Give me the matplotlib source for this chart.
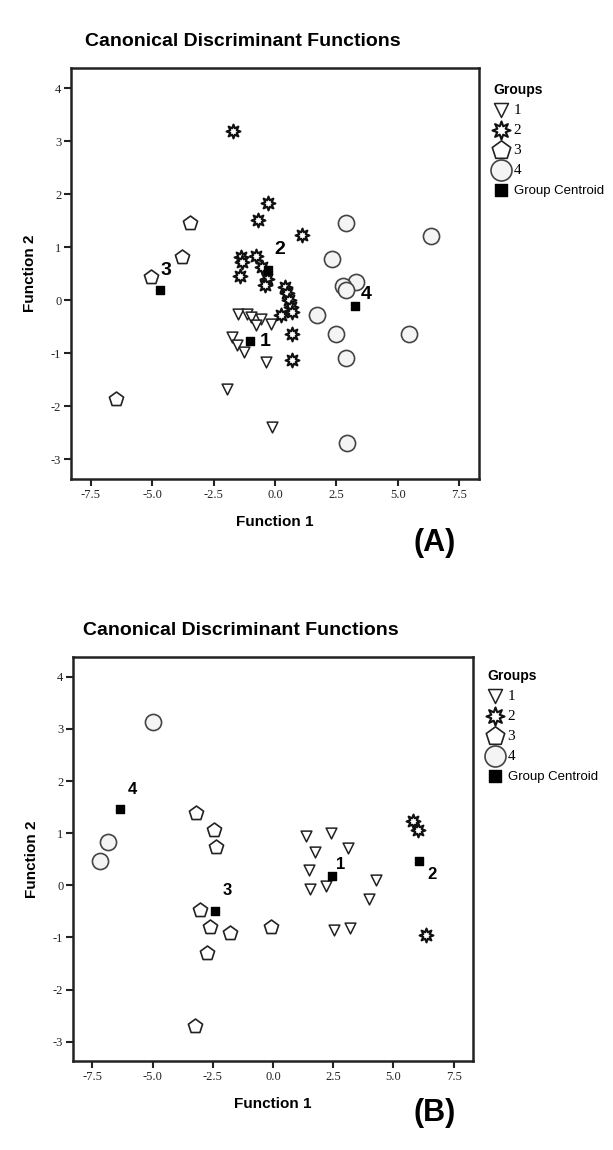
import numpy as np
import matplotlib.pyplot as plt

plt.rcParams['font.family'] = ['Liberation Sans', 'DejaVu Sans']

# ---- panel (A) ----
a_g1_x = [-1.49, -1.12, -0.99, -0.58, -0.79, -0.18, -1.73, -1.53, -1.26, -0.38, -1.96, -0.14]
a_g1_y = [-0.25, -0.26, -0.31, -0.35, -0.47, -0.44, -0.69, -0.85, -0.97, -1.16, -1.68, -2.39]
a_g2_x = [-1.69, -0.28, -0.68, 1.11, -1.40, -1.33, -0.79, -0.51, -1.44, -0.31, -0.42, 0.39, 0.50, 0.57, 0.64, 0.70, 0.26, 0.70, 0.70]
a_g2_y = [3.20, 1.83, 1.51, 1.23, 0.82, 0.72, 0.83, 0.63, 0.45, 0.41, 0.28, 0.25, 0.13, 0.00, -0.13, -0.22, -0.28, -0.63, -1.13]
a_g3_x = [-3.46, -3.77, -5.03, -6.45]
a_g3_y = [1.46, 0.82, 0.43, -1.86]
a_g4_x = [2.87, 6.36, 2.30, 3.31, 2.78, 2.87, 1.69, 2.47, 5.47, 2.87, 2.94]
a_g4_y = [1.46, 1.22, 0.77, 0.35, 0.26, 0.20, -0.27, -0.64, -0.64, -1.08, -2.69]
a_cent_x = [-1.02, -0.27, -4.69, 3.25]
a_cent_y = [-0.77, 0.58, 0.20, -0.11]

# ---- panel (B) ----
b_g1_x = [1.37, 2.40, 1.75, 3.13, 1.48, 1.53, 2.22, 4.26, 3.99, 2.54, 3.20]
b_g1_y = [0.94, 1.01, 0.63, 0.72, 0.29, -0.07, -0.02, 0.11, -0.26, -0.85, -0.82]
b_g2_x = [5.81, 6.03, 6.33]
b_g2_y = [1.23, 1.07, -0.95]
b_g3_x = [-3.19, -2.43, -2.36, -3.05, -2.63, -1.78, -0.08, -2.73, -3.23]
b_g3_y = [1.38, 1.07, 0.74, -0.48, -0.79, -0.92, -0.80, -1.30, -2.70]
b_g4_x = [-4.98, -6.84, -7.16]
b_g4_y = [3.13, 0.83, 0.46]
b_cent_x = [2.44, 6.06, -2.41, -6.33]
b_cent_y = [0.17, 0.46, -0.50, 1.47]

group_names = ['1', '2', '3', '4']
x_ticks = [-7.5, -5.0, -2.5, 0.0, 2.5, 5.0, 7.5]
x_tick_labels = ['-7.5', '-5.0', '-2.5', '0.0', '2.5', '5.0', '7.5']
y_ticks = [-3, -2, -1, 0, 1, 2, 3, 4]
y_tick_labels = ['-3', '-2', '-1', '0', '1', '2', '3', '4']

star = (8, 1, 0)
styles = [
    dict(marker='v', s=60, facecolors='white', edgecolors='#222222', linewidths=1.1),
    dict(marker=star, s=100, facecolors='white', edgecolors='#111111', linewidths=1.5),
    dict(marker='p', s=115, facecolors='white', edgecolors='#222222', linewidths=1.2),
    dict(marker='o', s=135, facecolors='#f4f4f4', edgecolors='#444444', linewidths=1.2),
]


def draw_panel(fig, rect, groups, cent_x, cent_y, offsets, tag, tag_pos, leg_pos, lab_size):
    ax = fig.add_axes(rect)
    handles = []
    for (gx, gy), st, name in zip(groups, styles, group_names):
        h = ax.scatter(gx, gy, zorder=3, label=name, **st)
        handles.append(h)
    hc = ax.scatter(cent_x, cent_y, marker='s', s=38, color='black', zorder=4,
                    label='Group Centroid')
    handles.append(hc)
    for name, cx, cy, off in zip(group_names, cent_x, cent_y, offsets):
        ax.annotate(name, (cx, cy), xytext=off, textcoords='offset pixels',
                    ha='center', va='center', fontsize=lab_size, fontweight='bold',
                    zorder=5)
    ax.set_xlim(-8.3, 8.3)
    ax.set_ylim(-3.37, 4.38)
    ax.set_xticks(x_ticks)
    ax.set_xticklabels(x_tick_labels, family='Liberation Serif', fontsize=9)
    ax.set_yticks(y_ticks)
    ax.set_yticklabels(y_tick_labels, family='Liberation Serif', fontsize=9)
    ax.tick_params(direction='out', length=5, width=1.5, colors='#222222', pad=2)
    for sp in ax.spines.values():
        sp.set_linewidth(1.8)
        sp.set_color('#222222')
    ax.set_xlabel('Function 1', fontsize=11, fontweight='bold', labelpad=10)
    ax.set_ylabel('Function 2', fontsize=11, fontweight='bold', labelpad=10)
    ax.set_title('Canonical Discriminant Functions', fontsize=14, fontweight='bold',
                 pad=16, x=0.42)
    fig.text(tag_pos[0], tag_pos[1], tag, fontsize=22, fontweight='bold',
             ha='center', va='center')
    leg = ax.legend(handles=handles, loc='upper left', bbox_to_anchor=leg_pos,
                    bbox_transform=fig.transFigure, frameon=False, title='Groups',
                    alignment='left', borderpad=0, handlelength=1.0,
                    handletextpad=0.3, labelspacing=0.42, fontsize=11,
                    markerscale=1.3)
    leg.get_title().set_fontweight('bold')
    leg.get_title().set_fontsize(10)
    for t in leg.get_texts()[:4]:
        t.set_family('Liberation Serif')
    leg.get_texts()[4].set_fontsize(9.5)
    return ax


fig = plt.figure(figsize=(6.13, 11.5), dpi=100)

draw_panel(fig, [71 / 613, 1 - 479 / 1150, 408 / 613, 411 / 1150],
           [(a_g1_x, a_g1_y), (a_g2_x, a_g2_y), (a_g3_x, a_g3_y), (a_g4_x, a_g4_y)],
           a_cent_x, a_cent_y,
           [(15, 0), (11, 20), (6, 19), (11, 12)],
           '(A)', (435 / 613, 1 - 543 / 1150), (486 / 613, 1 - 75 / 1150), 14)

draw_panel(fig, [73 / 613, 1 - 1061 / 1150, 400 / 613, 404 / 1150],
           [(b_g1_x, b_g1_y), (b_g2_x, b_g2_y), (b_g3_x, b_g3_y), (b_g4_x, b_g4_y)],
           b_cent_x, b_cent_y,
           [(9, 12), (13, -13), (12, 21), (12, 19)],
           '(B)', (435 / 613, 1 - 1113 / 1150), (480 / 613, 1 - 661 / 1150), 12)

fig.savefig('out.png', dpi=100, facecolor='white')
